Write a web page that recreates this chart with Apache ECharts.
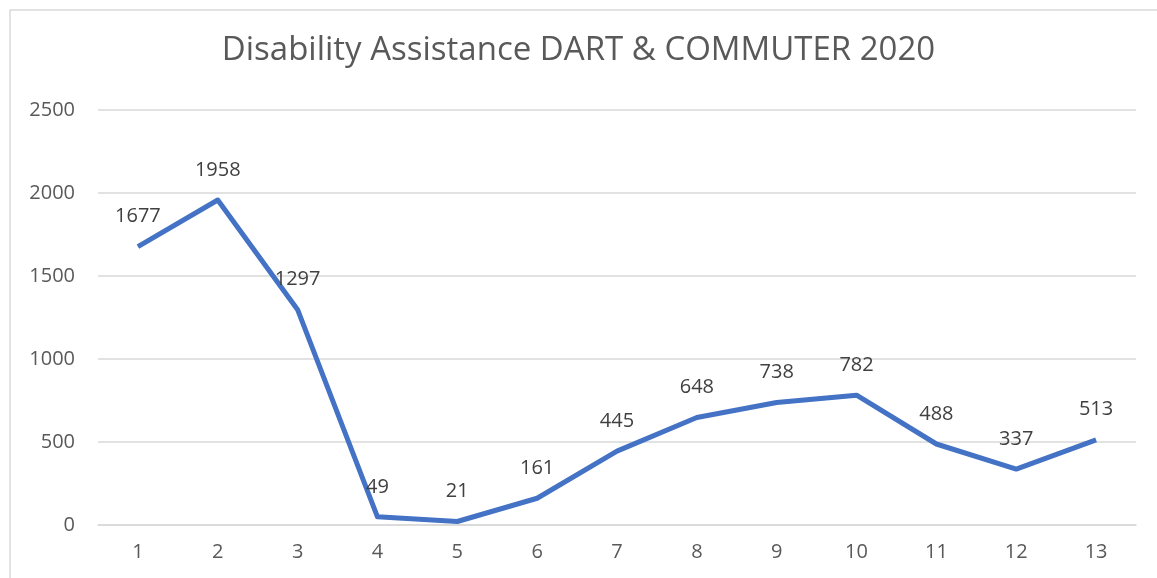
<!DOCTYPE html>
<html>
<head>
<meta charset="utf-8">
<script src="https://cdn.jsdelivr.net/npm/echarts@6/dist/echarts.min.js"></script>
<style>
  html, body { margin: 0; padding: 0; background: #fff; }
  #chart { width: 1157px; height: 578px; }
</style>
</head>
<body>
<div id="chart"></div>
<script>
const categories = ['1', '2', '3', '4', '5', '6', '7', '8', '9', '10', '11', '12', '13']
const values = [1677, 1958, 1297, 49, 21, 161, 445, 648, 738, 782, 488, 337, 513]
const yTicks = { min: 0, max: 2500, interval: 500 }

const chart = echarts.init(document.getElementById('chart'), null, { renderer: 'canvas' })

chart.setOption({
  backgroundColor: '#ffffff',
  animation: false,
  textStyle: { fontFamily: 'Open Sans' },
  title: {
    text: 'Disability Assistance DART & COMMUTER 2020',
    left: 'center',
    top: 29,
    textStyle: { color: '#595959', fontSize: 33, fontWeight: 'normal', fontFamily: 'Open Sans' }
  },
  graphic: [{
    type: 'rect',
    shape: { x: 10, y: 10, width: 1300, height: 700 },
    style: { fill: 'none', stroke: '#d9d9d9', lineWidth: 1.5 },
    silent: true
  }],
  grid: { left: 98, right: 21, top: 110, bottom: 53, containLabel: false },
  xAxis: {
    type: 'category',
    data: categories,
    boundaryGap: true,
    axisLine: { show: true, lineStyle: { color: '#d9d9d9', width: 1.5 } },
    axisTick: { show: false },
    axisLabel: { color: '#595959', fontSize: 20, margin: 17 }
  },
  yAxis: {
    type: 'value',
    min: yTicks.min,
    max: yTicks.max,
    interval: yTicks.interval,
    axisLine: { show: false },
    axisTick: { show: false },
    axisLabel: { color: '#595959', fontSize: 20, margin: 23, formatter: (v) => String(v) },
    splitLine: { show: true, lineStyle: { color: '#d9d9d9', width: 1.5 } }
  },
  series: [{
    type: 'line',
    data: values,
    symbol: 'circle',
    symbolSize: 0.1,
    showSymbol: true,
    itemStyle: { color: 'rgba(68,114,196,0)' },
    lineStyle: { color: '#4472c4', width: 5, join: 'round' },
    label: {
      show: true,
      position: 'top',
      distance: 20,
      color: '#404040',
      fontSize: 20,
      fontFamily: 'Open Sans'
    },
    labelLayout: { hideOverlap: false }
  }]
})
</script>
</body>
</html>
